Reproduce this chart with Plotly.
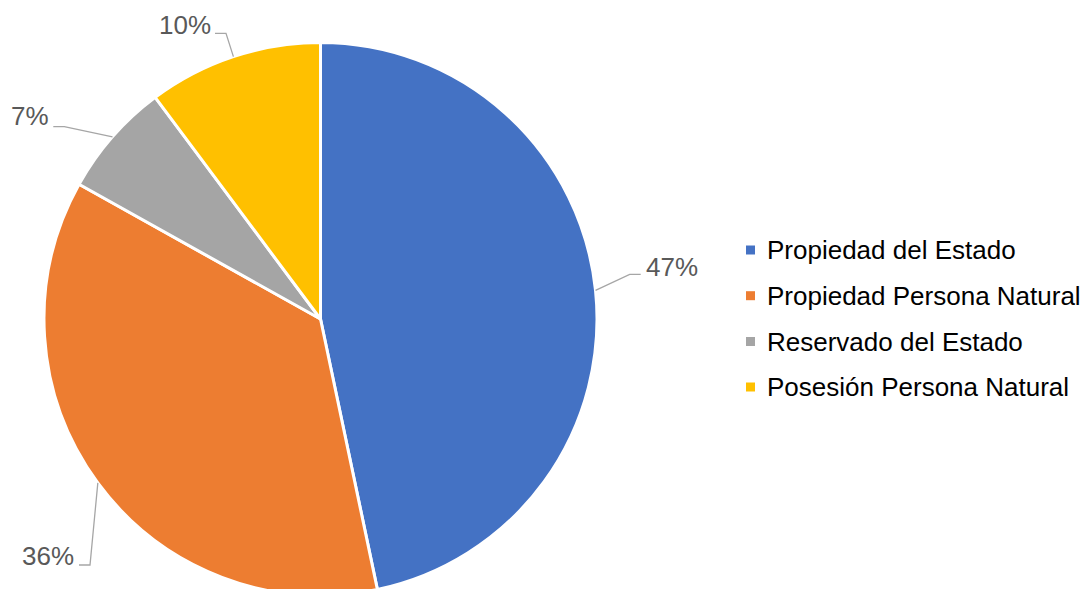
import math
import plotly.graph_objects as go

# ---- data ----
categories = ["Propiedad del Estado", "Propiedad Persona Natural",
              "Reservado del Estado", "Posesión Persona Natural"]
values = [46.7, 36.4, 6.7, 10.2]     # labels show rounded %
colors = ["#4472C4", "#ED7D31", "#A5A5A5", "#FFC000"]

# ---- layout (page pixels) ----
OX, OY = 8, 8                  # page body margin
W, H = 1088 - OX, 590          # figure size (pie bottom runs past the window)
CX, CY, R = 320.5, 319.0, 276.5          # pie centre / radius in page px
# label text centre (tx, ty) and leader-line horizontal start (hx, hy, dir)
label_pos = [
    (672.0, 267.0, 640.7, 274.3, -1),
    (47.5, 555.7, 79.0, 565.0, +1),
    (30.0, 116.3, 53.3, 126.7, +1),
    (185.3, 25.0, 215.0, 33.3, +1),
]
legend_y = [250.0, 295.7, 341.5, 387.0]
legend_sq_x = 750.5
legend_txt_x = 765.0

def px(x):
    return (x - OX) / W

def py(y):
    return 1 - (y - OY) / H

fig = go.Figure()
fig.add_trace(go.Pie(
    labels=categories, values=values, sort=False, direction="clockwise",
    rotation=0, marker=dict(colors=colors, line=dict(color="white", width=3)),
    textinfo="none", hoverinfo="label+percent", showlegend=False,
    domain=dict(x=[px(CX - R), px(CX + R)], y=[max(0, py(CY + R)), py(CY - R)]),
))

annotations = []
shapes = []
total = sum(values)
cum = 0.0
for v, (tx, ty, hx, hy, d) in zip(values, label_pos):
    mid = (cum + v / 2) / total * 2 * math.pi
    cum += v
    ex = CX + R * math.sin(mid)
    ey = CY - R * math.cos(mid)
    elx = hx + d * 11
    path = f"M {px(hx)} {py(hy)} L {px(elx)} {py(hy)} L {px(ex)} {py(ey)}"
    shapes.append(dict(type="path", xref="paper", yref="paper", path=path,
                       line=dict(color="#A6A6A6", width=1.3)))
    annotations.append(dict(x=px(tx), y=py(ty), xref="paper", yref="paper",
                            text=f"{round(v / total * 100)}%", showarrow=False,
                            xanchor="center", yanchor="middle",
                            font=dict(family="Liberation Sans, Arial", size=26,
                                      color="#595959")))

for cat, col, ly in zip(categories, colors, legend_y):
    shapes.append(dict(type="rect", xref="paper", yref="paper",
                       x0=px(legend_sq_x - 4.5), x1=px(legend_sq_x + 4.5),
                       y0=py(ly + 4.5), y1=py(ly - 4.5),
                       fillcolor=col, line=dict(width=0)))
    annotations.append(dict(x=px(legend_txt_x), y=py(ly), xref="paper", yref="paper",
                            text=cat, showarrow=False, xanchor="left", yanchor="middle",
                            font=dict(family="Liberation Sans, Arial", size=26,
                                      color="#000000")))

fig.update_layout(
    width=W, height=H, margin=dict(l=0, r=0, t=0, b=0),
    paper_bgcolor="white", plot_bgcolor="white",
    showlegend=False, annotations=annotations, shapes=shapes,
)
fig.write_html("out.html")
